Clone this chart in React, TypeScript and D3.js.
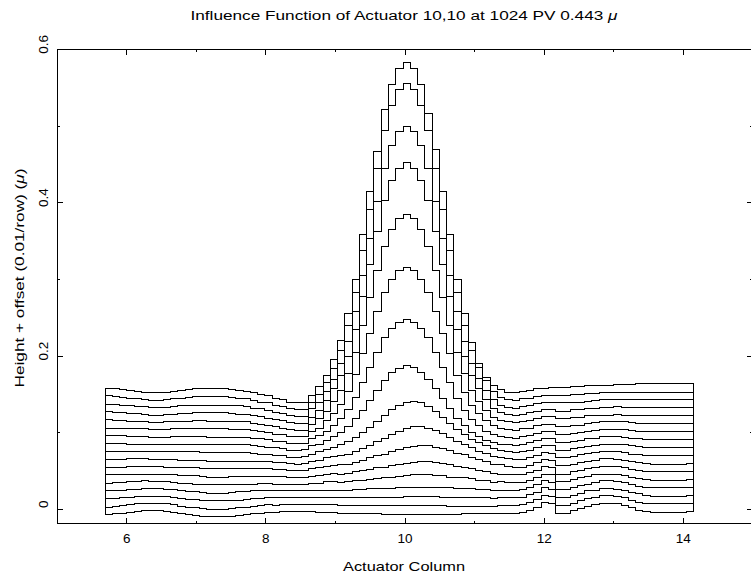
import React from "react";
import * as d3 from "d3";

const W = 751;
const H = 576;

// Bins along the actuator column axis
const colStart = 5.69; // left edge of the first bin
const colWidth = 0.10444; // bin width
const rowOffset = 0.01; // offset per row (µ)

// Heights per row in units of 0.001 µ (before the row offset is added)
const row00 = [-7,-6,-5,-4,-3,-2,-2,-2,-3,-4,-6,-7,-8,-9,-10,-10,-10,-9,-8,-7,-6,-5,-4,-4,-3,-3,-3,-3,-3,-4,-4,-4,-5,-5,-5,-6,-6,-6,-7,-7,-7,-7,-7,-7,-7,-7,-7,-7,-7,-6,-6,-6,-6,-6,-5,-5,-5,-4,-1,3,9,7,-5,-5,-2,1,4,6,8,8,7,5,2,-1,-3,-4,-4,-4,-4,-4,-3];
const row01 = [-7,-6,-5,-4,-3,-2,-2,-2,-3,-4,-6,-7,-8,-9,-10,-10,-10,-9,-8,-7,-6,-5,-4,-5,-4,-4,-4,-4,-4,-4,-4,-4,-5,-5,-5,-5,-5,-5,-5,-5,-5,-5,-5,-5,-5,-5,-5,-6,-6,-6,-6,-6,-6,-6,-5,-5,-5,-4,-1,3,8,7,-5,-5,-2,1,4,6,8,8,7,5,2,-1,-3,-3,-3,-3,-3,-3,-3];
const row02 = [-6,-6,-5,-4,-3,-3,-3,-3,-3,-4,-6,-7,-7,-8,-9,-9,-9,-8,-8,-7,-6,-6,-5,-5,-5,-5,-5,-5,-5,-5,-4,-4,-4,-4,-4,-5,-4,-4,-4,-4,-4,-3,-3,-3,-3,-3,-4,-4,-4,-4,-4,-5,-5,-6,-5,-5,-5,-4,-1,2,8,6,-4,-4,-2,1,4,5,7,7,6,5,2,0,-2,-3,-3,-3,-3,-3,-2];
const row03 = [-6,-5,-5,-4,-4,-3,-3,-3,-4,-4,-6,-7,-7,-8,-9,-9,-9,-8,-7,-7,-6,-6,-6,-6,-6,-6,-6,-6,-5,-6,-5,-5,-5,-5,-4,-4,-3,-3,-3,-3,-2,-2,-1,-1,-1,-1,-2,-2,-3,-3,-3,-4,-4,-5,-6,-6,-6,-4,-2,2,7,5,-4,-4,-2,1,3,5,7,7,6,5,2,0,-2,-2,-2,-2,-2,-2,-2];
const row04 = [-6,-5,-5,-4,-4,-3,-4,-4,-4,-5,-6,-6,-7,-7,-8,-8,-8,-8,-7,-7,-7,-6,-6,-7,-7,-7,-8,-8,-6,-6,-4,-4,-5,-4,-3,-2,-1,0,1,2,3,4,5,5,5,4,4,2,1,1,0,-2,-3,-5,-4,-5,-5,-5,-2,1,6,5,-4,-4,-1,1,3,5,6,6,6,4,2,0,-1,-2,-2,-2,-2,-2,-1];
const row05 = [-5,-5,-5,-4,-4,-4,-4,-4,-4,-5,-6,-6,-6,-7,-8,-8,-8,-7,-7,-7,-7,-7,-7,-7,-7,-8,-9,-9,-7,-6,-5,-3,-4,-3,-1,0,2,4,5,7,9,10,11,12,12,11,10,8,6,5,3,1,-1,-3,-4,-4,-5,-5,-2,1,6,4,-4,-4,-1,1,3,4,6,6,6,4,2,1,-1,-1,-1,-1,-1,-1,-1];
const row06 = [-5,-5,-5,-4,-4,-4,-4,-4,-5,-5,-6,-6,-6,-7,-7,-7,-7,-7,-7,-7,-7,-7,-7,-8,-8,-9,-10,-10,-7,-6,-4,-3,-2,-1,1,4,7,10,12,15,18,20,22,23,23,21,19,17,13,11,8,5,2,-1,-2,-4,-5,-5,-3,1,5,4,-3,-3,-1,1,3,4,6,6,5,4,2,1,0,-1,-1,-1,-1,-1,0];
const row07 = [-5,-5,-5,-4,-4,-4,-5,-5,-5,-5,-6,-6,-6,-6,-7,-7,-7,-7,-7,-7,-7,-7,-8,-9,-9,-10,-11,-10,-8,-6,-3,-1,0,2,5,9,13,18,22,27,32,36,38,38,36,33,29,24,19,15,10,6,3,-1,-2,-4,-5,-5,-3,0,4,3,-3,-3,-1,1,3,4,5,5,5,4,2,1,0,0,0,0,0,0,0];
const row08 = [-5,-4,-4,-5,-5,-5,-5,-5,-5,-5,-5,-5,-5,-6,-6,-6,-6,-6,-6,-6,-7,-8,-8,-10,-10,-12,-12,-11,-8,-5,-2,1,4,8,14,20,27,35,43,50,56,60,61,59,54,48,40,32,24,17,11,7,3,-1,-3,-5,-6,-5,-3,0,3,3,-3,-3,-1,1,2,3,5,5,5,4,3,2,1,0,0,0,0,0,1];
const row09 = [-4,-4,-4,-5,-5,-5,-5,-5,-5,-5,-5,-5,-5,-6,-6,-6,-6,-6,-6,-6,-7,-8,-9,-10,-11,-13,-13,-12,-7,-5,0,5,10,18,28,39,52,65,78,88,94,97,95,89,80,68,55,42,29,19,10,5,0,-3,-5,-6,-7,-5,-3,0,3,2,-3,-3,-1,0,2,3,5,5,5,4,3,2,1,1,1,1,1,1,1];
const row10 = [-4,-4,-4,-5,-5,-5,-6,-6,-6,-5,-5,-5,-5,-5,-6,-6,-6,-6,-6,-6,-7,-8,-9,-11,-12,-14,-14,-14,-8,-4,2,9,18,30,46,65,85,105,124,136,144,147,144,136,124,105,85,65,45,29,17,9,2,-2,-5,-6,-7,-5,-4,-1,2,2,-2,-2,-1,0,2,3,4,4,4,4,3,2,1,1,1,1,1,1,1];
const row11 = [-4,-4,-4,-5,-5,-5,-6,-6,-6,-5,-5,-5,-5,-5,-5,-5,-5,-6,-6,-6,-7,-8,-10,-12,-13,-15,-15,-15,-9,-4,6,15,27,44,66,93,120,148,173,190,201,205,201,190,173,148,120,93,65,43,26,15,6,-1,-5,-6,-7,-5,-4,-1,1,1,-2,-2,-1,0,2,3,4,4,4,4,3,2,2,2,2,2,2,2,2];
const row12 = [-3,-4,-4,-5,-5,-6,-7,-7,-6,-6,-5,-5,-4,-4,-5,-5,-5,-5,-6,-6,-8,-9,-10,-12,-14,-16,-17,-17,-9,-2,8,21,35,57,85,120,156,191,223,245,259,264,259,245,223,191,156,120,85,57,35,21,9,0,-4,-6,-7,-6,-4,-2,1,1,-2,-2,0,0,2,2,3,3,4,3,3,3,2,2,2,2,2,2,2];
const row13 = [-3,-4,-4,-5,-5,-6,-7,-7,-6,-6,-5,-5,-4,-4,-4,-4,-4,-5,-6,-6,-8,-9,-11,-13,-14,-17,-18,-18,-10,-1,12,27,44,70,105,148,190,233,273,299,315,322,315,299,273,233,190,148,105,70,44,27,13,2,-4,-6,-7,-6,-4,-2,0,0,-2,-2,0,0,2,2,3,3,4,3,3,3,3,3,3,3,3,3,3];
const row14 = [-3,-3,-4,-5,-6,-6,-7,-7,-7,-6,-5,-4,-4,-4,-4,-4,-4,-5,-5,-6,-8,-9,-11,-14,-15,-18,-19,-19,-9,0,14,30,50,79,118,165,213,261,305,334,353,360,353,334,305,261,213,165,118,79,50,31,15,3,-4,-7,-8,-6,-5,-2,-1,0,-1,-1,0,0,1,2,3,3,3,3,3,3,3,3,3,3,3,3,3];
const row15 = [-2,-3,-4,-5,-6,-7,-8,-8,-7,-6,-5,-4,-3,-3,-3,-3,-3,-4,-5,-6,-8,-10,-11,-14,-16,-19,-20,-20,-10,0,16,34,57,90,133,187,241,294,344,377,398,406,398,377,344,294,241,187,133,90,57,35,18,4,-4,-7,-8,-6,-5,-3,-1,-1,-1,-1,0,0,1,1,2,2,3,3,3,3,3,3,3,3,3,3,3];
const row16 = [-2,-3,-4,-5,-6,-7,-8,-8,-7,-6,-5,-4,-3,-3,-3,-3,-3,-4,-5,-6,-8,-10,-12,-15,-17,-20,-21,-21,-12,0,15,35,60,95,140,198,254,307,361,394,415,423,415,394,356,309,254,198,140,95,58,30,12,2,-4,-8,-8,-6,-5,-3,-2,-1,-1,-1,0,0,1,1,2,2,3,3,3,4,4,4,4,4,4,4,4];

const rows = [row00, row01, row02, row03, row04, row05, row06, row07, row08, row09, row10, row11, row12, row13, row14, row15, row16];

const xMajorTicks = [6, 8, 10, 12, 14];
const xMinorTicks = [5, 7, 9, 11, 13, 15];
const yMajorTicks = [0, 0.2, 0.4, 0.6];
const yMinorTicks = [0.1, 0.3, 0.5];

const titleText = "Influence Function of Actuator 10,10 at 1024 PV 0.443 ";
const xTitle = "Actuator Column";
const yTitle = "Height + offset (0.01/row) ";

const FONT = "'Liberation Sans', 'DejaVu Sans', sans-serif";

export default function App() {
  const x = d3.scaleLinear().domain([5, 15]).range([57.1, 752.9]);
  const y = d3.scaleLinear().domain([-0.0185, 0.6]).range([523.5, 49.4]);
  const left = x(5);
  const right = x(15);
  const top = y(0.6);
  const bottom = y(-0.0185);

  const line = d3
    .line<[number, number]>()
    .x((d) => x(d[0]))
    .y((d) => y(d[1]))
    .curve(d3.curveStepAfter);

  const series = rows.map((vals, r) => {
    const pts: [number, number][] = vals.map((v, k) => [colStart + k * colWidth, v / 1000 + r * rowOffset]);
    pts.push([colStart + vals.length * colWidth, vals[vals.length - 1] / 1000 + r * rowOffset]);
    return pts;
  });

  const firstVals = series.map((s) => s[0][1]);
  const lastVals = series.map((s) => s[s.length - 1][1]);
  const xStart = colStart;
  const xEnd = colStart + row00.length * colWidth;

  const majLen = 6;
  const minLen = 3;

  return (
    <svg width={W} height={H} style={{ position: "absolute", left: 0, top: 0, background: "#fff" }}>
      <rect x={0} y={0} width={W} height={H} fill="#fff" />
      {/* data */}
      <g fill="none" stroke="#000" strokeWidth={1} shapeRendering="crispEdges">
        {series.map((s, i) => (
          <path key={i} d={line(s) || ""} />
        ))}
        <line x1={x(xStart)} x2={x(xStart)} y1={y(d3.min(firstVals)!)} y2={y(d3.max(firstVals)!)} />
        <line x1={x(xEnd)} x2={x(xEnd)} y1={y(d3.min(lastVals)!)} y2={y(d3.max(lastVals)!)} />
      </g>
      {/* frame */}
      <g stroke="#000" strokeWidth={1} fill="none" shapeRendering="crispEdges">
        <rect x={left} y={top} width={right - left} height={bottom - top} />
        {xMajorTicks.map((t) => (
          <g key={"xM" + t}>
            <line x1={x(t)} x2={x(t)} y1={bottom} y2={bottom - majLen} />
            <line x1={x(t)} x2={x(t)} y1={top} y2={top + majLen} />
          </g>
        ))}
        {xMinorTicks.map((t) => (
          <g key={"xm" + t}>
            <line x1={x(t)} x2={x(t)} y1={bottom} y2={bottom - minLen} />
            <line x1={x(t)} x2={x(t)} y1={top} y2={top + minLen} />
          </g>
        ))}
        {yMajorTicks.map((t) => (
          <g key={"yM" + t}>
            <line x1={left} x2={left + majLen} y1={y(t)} y2={y(t)} />
            <line x1={right} x2={right - majLen} y1={y(t)} y2={y(t)} />
          </g>
        ))}
        {yMinorTicks.map((t) => (
          <g key={"ym" + t}>
            <line x1={left} x2={left + minLen} y1={y(t)} y2={y(t)} />
            <line x1={right} x2={right - minLen} y1={y(t)} y2={y(t)} />
          </g>
        ))}
      </g>
      {/* tick labels */}
      <g fontFamily={FONT} fontSize={13.5} fill="#000">
        {xMajorTicks.map((t) => (
          <text key={"xl" + t} x={x(t)} y={543} textAnchor="middle">
            {String(t)}
          </text>
        ))}
        {yMajorTicks.map((t) => (
          <text
            key={"yl" + t}
            transform={`translate(48,${y(t) - 5}) rotate(-90)`}
            textAnchor="middle"
          >
            {String(t)}
          </text>
        ))}
      </g>
      {/* titles */}
      <g fontFamily={FONT} fill="#000">
        <text x={404} y={19.5} textAnchor="middle" fontSize={12} textLength={427} lengthAdjust="spacingAndGlyphs">
          {titleText}
          <tspan fontStyle="italic">μ</tspan>
        </text>
        <text x={404} y={571} textAnchor="middle" fontSize={13} textLength={122} lengthAdjust="spacingAndGlyphs">
          {xTitle}
        </text>
        <text
          transform={`translate(24,${278}) rotate(-90)`}
          textAnchor="middle"
          fontSize={13}
          textLength={219}
          lengthAdjust="spacingAndGlyphs"
        >
          {yTitle}
          <tspan>(</tspan>
          <tspan fontStyle="italic">μ</tspan>
          <tspan>)</tspan>
        </text>
      </g>
    </svg>
  );
}
